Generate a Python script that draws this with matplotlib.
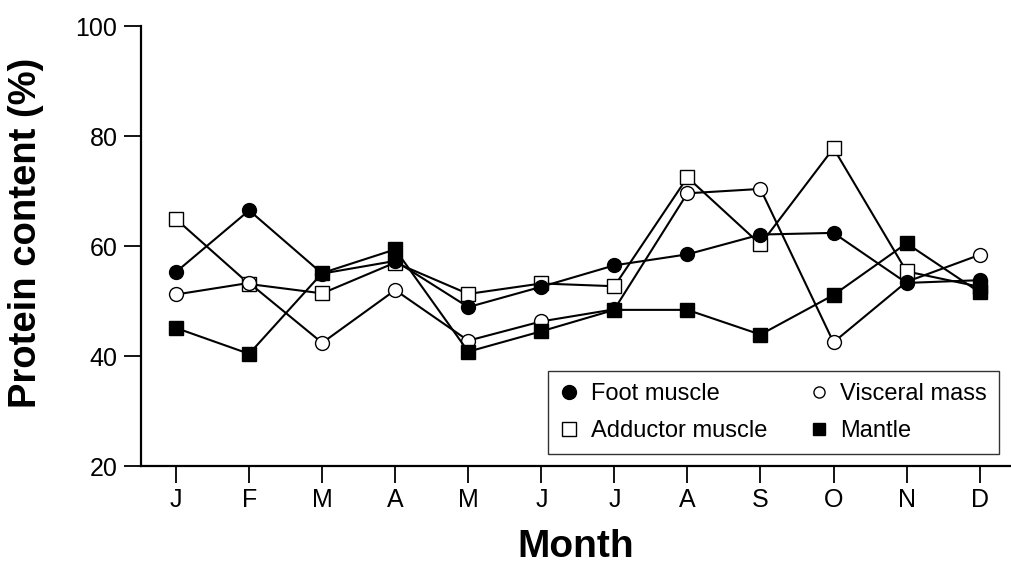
import matplotlib
matplotlib.use("Agg")
import matplotlib.pyplot as plt
from matplotlib.lines import Line2D

plt.rcParams['font.family'] = ['Liberation Sans', 'DejaVu Sans']

months = ['J', 'F', 'M', 'A', 'M', 'J', 'J', 'A', 'S', 'O', 'N', 'D']
foot_muscle = [55.3, 66.5, 55.0, 57.3, 48.9, 52.6, 56.5, 58.5, 62.1, 62.4, 53.3, 53.8]
visceral_mass = [51.2, 53.3, 42.4, 52.0, 42.8, 46.3, 48.5, 69.6, 70.4, 42.5, 53.5, 58.4]
adductor_muscle = [64.9, 53.1, 51.4, 57.0, 51.3, 53.2, 52.7, 72.5, 60.3, 77.8, 55.4, 52.6]
mantle = [45.1, 40.4, 55.1, 59.4, 40.8, 44.5, 48.4, 48.4, 43.9, 51.1, 60.5, 51.6]

x = list(range(1, len(months) + 1))

fig = plt.figure(figsize=(10.11, 5.69), dpi=100)
ax = fig.add_axes([0.1395, 0.181, 0.8605, 0.773])

series = [
    (adductor_muscle, 's', 'white'),
    (visceral_mass, 'o', 'white'),
    (foot_muscle, 'o', 'black'),
    (mantle, 's', 'black'),
]
for vals, mk, fc in series:
    ax.plot(x, vals, color='black', lw=1.5, marker=mk, markersize=10,
            markerfacecolor=fc, markeredgecolor='black', markeredgewidth=1.0,
            zorder=3)

ax.set_xlim(0.52, 12.43)
ax.set_ylim(20, 100)
ax.set_yticks([20, 40, 60, 80, 100])
ax.set_xticks(x)
ax.set_xticklabels(months)
ax.tick_params(axis='both', direction='out', length=12, width=1.3,
               labelsize=18, colors='black')
ax.tick_params(axis='x', pad=4)
ax.tick_params(axis='y', pad=5)
for side in ['top', 'right']:
    ax.spines[side].set_visible(False)
for side in ['left', 'bottom']:
    ax.spines[side].set_linewidth(1.6)

ax.set_xlabel('Month', fontsize=28, fontweight='bold', labelpad=12)
ax.set_ylabel('Protein content (%)', fontsize=27.5, fontweight='bold')
ax.yaxis.set_label_coords(-0.112, 0.53)

handles = [
    Line2D([], [], ls='none', marker='o', color='black', markersize=10),
    Line2D([], [], ls='none', marker='s', markerfacecolor='white',
           markeredgecolor='black', markersize=10),
    Line2D([], [], ls='none', marker='o', markerfacecolor='white',
           markeredgecolor='black', markersize=8),
    Line2D([], [], ls='none', marker='s', color='black', markersize=9),
]
labels = ['Foot muscle', 'Adductor muscle', 'Visceral mass', 'Mantle']
leg = ax.legend(handles, labels, ncol=2, loc='lower right',
                bbox_to_anchor=(0.986, 0.027), fontsize=17, frameon=True,
                fancybox=False, edgecolor='black', handlelength=0.8,
                handletextpad=0.5, columnspacing=1.8, labelspacing=0.65,
                borderpad=0.5, borderaxespad=0)
leg.get_frame().set_linewidth(1.0)

fig.savefig('out.png', dpi=100)
